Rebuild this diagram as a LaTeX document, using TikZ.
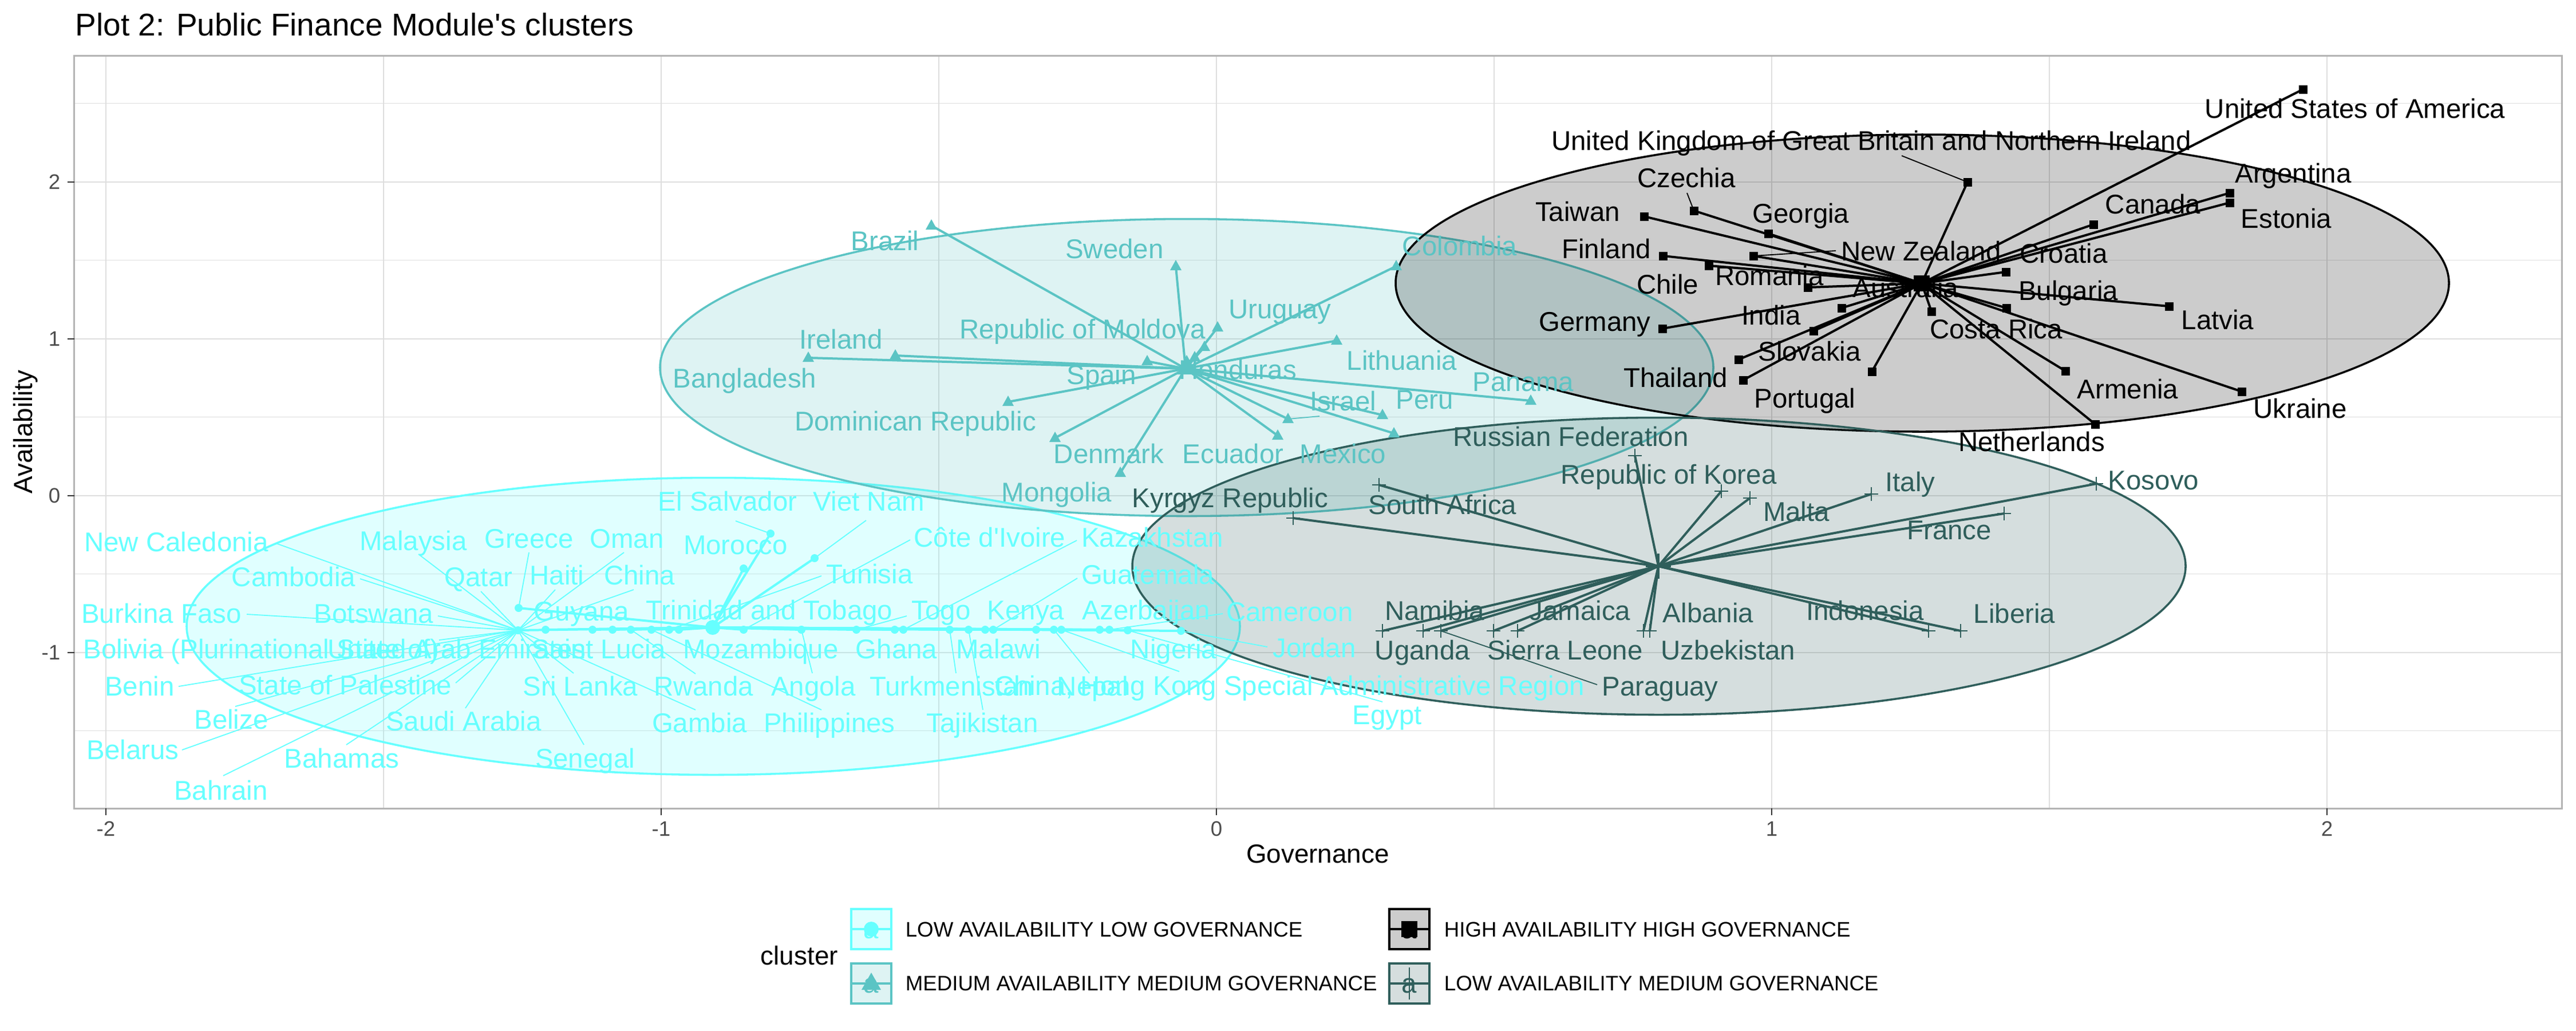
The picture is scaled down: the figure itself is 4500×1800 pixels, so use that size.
\documentclass[tikz,border=0pt]{standalone}
\usepackage{fontspec}
\setmainfont{Liberation Sans}
\definecolor{cC}{HTML}{66FFFF}
\definecolor{tC}{HTML}{5BC4C4}
\definecolor{dC}{HTML}{2F5E5B}
\definecolor{gridc}{HTML}{DEDEDE}
\definecolor{borderc}{HTML}{B3B3B3}
\definecolor{tickc}{HTML}{333333}
\definecolor{ticklabc}{HTML}{4D4D4D}
\begin{document}
\begin{tikzpicture}[x=0.24pt,y=-0.24pt,
  lab/.style={inner sep=0pt, anchor=base, font=\fontsize{11.38}{13.6}\selectfont},
  clab/.style={lab, text=cC}, tlab/.style={lab, text=tC},
  klab/.style={lab, text=black}, dlab/.style={lab, text=dC},
  cseg/.style={cC, line width=0.45pt}, tseg/.style={tC, line width=0.45pt},
  kseg/.style={black, line width=0.45pt}, dseg/.style={dC, line width=0.45pt},
  cstar/.style={cC, line width=0.96pt}, tstar/.style={tC, line width=0.96pt},
  kstar/.style={black, line width=0.96pt}, dstar/.style={dC, line width=0.96pt},
  ell/.style={line width=0.85pt, fill opacity=0.2},
  minorg/.style={gridc, line width=0.27pt}, majorg/.style={gridc, line width=0.53pt},
  tickmark/.style={tickc, line width=0.53pt},
  ticklab/.style={inner sep=0pt, text=ticklabc, font=\fontsize{8.8}{10.5}\selectfont},
  legtext/.style={inner sep=0pt, anchor=base west, font=\fontsize{8.8}{10.5}\selectfont},
  keybox/.style={line width=0.85pt, fill opacity=0.2}
]
\useasboundingbox (0,0) rectangle (4500,1800);
\fill[white] (0,0) rectangle (4500,1800);
% ---------- grid ----------
\foreach \gx in {670,1640,2610,3580} \draw[minorg] (\gx,97.3) -- (\gx,1412);
\foreach \gy in {180.6,454.6,728.6,1002.6,1276.6} \draw[minorg] (129.5,\gy) -- (4475.5,\gy);
\foreach \gx in {185,1155,2125,3095,4065} \draw[majorg] (\gx,97.3) -- (\gx,1412);
\foreach \gy in {317.6,591.6,865.6,1139.6} \draw[majorg] (129.5,\gy) -- (4475.5,\gy);
% ---------- ellipses ----------
\draw[ell, draw=cC, fill=cC] (1246,1094) ellipse [x radius=920, y radius=259.5];
\draw[ell, draw=tC, fill=tC] (2073,642) ellipse [x radius=920, y radius=259.5];
\draw[ell, draw=black, fill=black] (3358,494.5) ellipse [x radius=920, y radius=259.5];
\draw[ell, draw=dC, fill=dC] (2898,989) ellipse [x radius=920, y radius=259.5];
% ---------- coordinates ----------
\coordinate (c1) at (1245,1096);
\coordinate (c2) at (2071,644);
\coordinate (c3) at (3357,495);
\coordinate (c4) at (2897,989);
\foreach \n/\x/\y in {0/905/1101, 1/906/1062, 2/1346/932, 3/1299/993, 4/1423/975,
  5/953/1100, 6/1035/1100, 7/1070/1100, 8/1102/1100, 9/1138/1100, 10/1169/1100,
  11/1186/1100, 12/1299/1100, 13/1400/1100, 14/1496/1100, 15/1563/1100, 16/1578/1100,
  17/1659/1100, 18/1692/1100, 19/1721/1100, 20/1735/1100, 21/1810/1100, 22/1841/1100,
  23/1854/1100, 24/1921/1100, 25/1938/1100, 26/1970/1101, 27/2063/1102}
  \coordinate (a\n) at (\x,\y);
\foreach \n/\x/\y in {0/1627/394, 1/2054/465, 2/2127/572, 3/2104/606, 4/2439/465,
  5/2335/595, 6/1564/621, 7/1412/625, 8/2004/631, 9/2087/624, 10/1761/702,
  11/1843/765, 12/2232/761, 13/2435/757, 14/2250/732, 15/2415/725, 16/2674/700,
  17/1957/826, 18/2073/631}
  \coordinate (b\n) at (\x,\y);
\foreach \n/\x/\y in {0/3437/318, 1/4023/156, 2/2959/368, 3/2872/378, 4/3089/408,
  5/2905/447, 6/3063/447, 7/2985/464, 8/3158/502, 9/3217/538, 10/3168/578,
  11/3037/628, 12/3045/664, 13/3270/649, 14/3374/544, 15/3504/475, 16/3505/538,
  17/2904/574, 18/3657/392, 19/3895/337, 20/3895/354, 21/3789/535, 22/3608/648,
  23/3916/684, 24/3660/741}
  \coordinate (k\n) at (\x,\y);
\foreach \n/\x/\y in {0/2856/796, 1/3007/858, 2/3057/870, 3/3269/863, 4/3662/845,
  5/3501/897, 6/2409/847, 7/2259/905, 8/2415/1102, 9/2486/1102, 10/2517/1102,
  11/2609/1102, 12/2651/1102, 13/2871/1102, 14/2882/1102, 15/3369/1102, 16/3425/1102}
  \coordinate (d\n) at (\x,\y);
% ---------- star lines ----------
\foreach \n in {0,...,27} \draw[cstar] (c1) -- (a\n);
\foreach \n in {0,...,18} \draw[tstar] (c2) -- (b\n);
\foreach \n in {0,...,24} \draw[kstar] (c3) -- (k\n);
\foreach \n in {0,...,16} \draw[dstar] (c4) -- (d\n);
% ---------- points ----------
\foreach \n in {0,...,27} \fill[cC] (a\n) circle[radius=7];
\foreach \n in {0,...,18} \fill[tC] (b\n) ++(0,-11) -- ++(-10,18) -- ++(20,0) -- cycle;
\foreach \n in {0,...,24} \fill[black] (k\n) ++(-7.5,-7.5) rectangle ++(15,15);
\foreach \n in {0,...,16} \draw[dC, line width=0.6pt] (d\n) ++(-12,0) -- ++(24,0) (d\n) ++(0,-12) -- ++(0,24);
% centroids
\fill[cC] (c1) circle[radius=13];
\fill[tC] (c2) ++(0,-17) -- ++(-15,27) -- ++(30,0) -- cycle;
\fill[black] (c3) ++(-14,-14) rectangle ++(28,28);
\draw[dC, line width=0.8pt] (c4) ++(-22,0) -- ++(44,0) (c4) ++(0,-22) -- ++(0,44);
% ---------- label segments ----------
\foreach \x/\y/\t in {482/949/0, 731/968/0, 924/965/1, 1090/965/0, 629/1011/0, 840/1033/0,
  970/1030/0, 1107/1030/0, 431/1073/0, 765/1076/0, 767/1118/0, 312/1199/0, 796/1193/0,
  1002/1176/0, 1215/1177/8, 411/1234/0, 813/1237/0, 1215/1240/0, 318/1310/0, 605/1301/0,
  1020/1301/0, 390/1355/0, 1285/910/2, 1513/909/4, 1435/1006/10, 1590/943/12,
  1881/944/16, 1882/1010/20, 1584/1076/14, 2136/1072/25, 2214/1130/27, 2415/1226/26,
  2060/1173/23, 1903/1176/22, 1670/1176/17, 1717/1240/18, 1419/1176/13, 1435/1240/9}
  \draw[cseg] (\x,\y) -- (a\t);
\draw[tseg] (2305,727) -- (b14);
\draw[kseg] (3322,272) -- (k0);
\draw[kseg] (2947,337) -- (k2);
\draw[kseg] (3207,438) -- (k6);
\draw[dseg] (2790,1196) -- (d10);
% ---------- cyan labels ----------
\node[clab] (ca1) at (308,963) {New Caledonia};
\node[clab] (ca2) at (722,961) {Malaysia};
\node[clab] (ca3) at (924,957) {Greece};
\node[clab] (ca4) at (1095,957) {Oman};
\node[clab] (ca5) at (513,1024) {Cambodia};
\node[clab] (ca6) at (836,1024) {Qatar};
\node[clab] (ca7) at (973,1021) {Haiti};
\node[clab] (ca8) at (1117,1021) {China};
\node[clab] (ca9) at (282,1088) {Burkina Faso};
\node[clab] (ca10) at (653,1088) {Botswana};
\node[clab] (ca11) at (1016,1084) {Guyana};
\node[clab] (ca12) at (1344,1082) {Trinidad and Tobago};
\node[clab, anchor=base west] (ca13) at (145,1150) {Bolivia (Plurinational State of)};
\node[clab] (ca14) at (798,1150) {United Arab Emirates};
\node[clab] (ca15) at (1046,1150) {Saint Lucia};
\node[clab] (ca16) at (244,1215) {Benin};
\node[clab] (ca17) at (603,1213) {State of Palestine};
\node[clab] (ca18) at (1014,1215) {Sri Lanka};
\node[clab] (ca19) at (1229,1215) {Rwanda};
\node[clab] (ca20) at (404,1273) {Belize};
\node[clab] (ca21) at (810,1276) {Saudi Arabia};
\node[clab] (ca22) at (1222,1279) {Gambia};
\node[clab] (ca23) at (232,1326) {Belarus};
\node[clab] (ca24) at (597,1341) {Bahamas};
\node[clab] (ca25) at (1022,1341) {Senegal};
\node[clab] (ca26) at (386,1397) {Bahrain};
\node[clab] (ca27) at (1271,892) {El Salvador};
\node[clab] (ca28) at (1518,892) {Viet Nam};
\node[clab] (ca29) at (1285,968) {Morocco};
\node[clab] (ca30) at (1729,955) {C\^ote d\textquotesingle Ivoire};
\node[clab] (ca31) at (2013,955) {Kazakhstan};
\node[clab] (ca32) at (1519,1019) {Tunisia};
\node[clab] (ca33) at (2005,1020) {Guatemala};
\node[clab] (ca34) at (1644,1082) {Togo};
\node[clab] (ca35) at (1792,1082) {Kenya};
\node[clab] (ca36) at (2002,1082) {Azerbaijan};
\node[clab] (ca37) at (2253,1085) {Cameroon};
\node[clab] (ca38) at (1329,1150) {Mozambique};
\node[clab] (ca39) at (1566,1150) {Ghana};
\node[clab] (ca40) at (1744,1150) {Malawi};
\node[clab] (ca41) at (2050,1150) {Nigeria};
\node[clab] (ca42) at (2296,1148) {Jordan};
\node[clab] (ca43) at (1421,1215) {Angola};
\node[clab] (ca44) at (1662,1215) {Turkmenistan};
\node[clab] (ca45) at (2253,1214) {China, Hong Kong Special Administrative Region};
\node[clab, anchor=base west] (ca46) at (1846,1215) {Nepal};
\node[clab] (ca47) at (1449,1279) {Philippines};
\node[clab] (ca48) at (1716,1279) {Tajikistan};
\node[clab] (ca49) at (2423,1265) {Egypt};
% ---------- teal labels ----------
\node[tlab] (tb1) at (1546,437) {Brazil};
\node[tlab] (tb2) at (1947,451) {Sweden};
\node[tlab] (tb3) at (2236,556) {Uruguay};
\node[tlab] (tb4) at (1891,591) {Republic of Moldova};
\node[tlab] (tb5) at (2550,446) {Colombia};
\node[tlab] (tb6) at (2449,646) {Lithuania};
\node[tlab] (tb7) at (1469,609) {Ireland};
\node[tlab] (tb8) at (1301,677) {Bangladesh};
\node[tlab] (tb9) at (1924,671) {Spain};
\node[tlab] (tb10) at (2162,662) {Honduras};
\node[tlab] (tb11) at (1599,752) {Dominican Republic};
\node[tlab] (tb12) at (1937,809) {Denmark};
\node[tlab] (tb13) at (2154,809) {Ecuador};
\node[tlab] (tb14) at (2346,809) {Mexico};
\node[tlab] (tb15) at (2346,717) {Israel};
\node[tlab] (tb16) at (2489,714) {Peru};
\node[tlab] (tb17) at (2661,683) {Panama};
\node[tlab] (tb18) at (1846,876) {Mongolia};
% ---------- dark labels ----------
\node[dlab] (dd1) at (2744,779) {Russian Federation};
\node[dlab] (dd2) at (2915,845) {Republic of Korea};
\node[dlab] (dd3) at (3138,910) {Malta};
\node[dlab] (dd4) at (3337,858) {Italy};
\node[dlab] (dd5) at (3762,855) {Kosovo};
\node[dlab] (dd6) at (3405,942) {France};
\node[dlab] (dd7) at (2520,898) {South Africa};
\node[dlab] (dd8) at (2149,886) {Kyrgyz Republic};
\node[dlab] (dd9) at (2506,1083) {Namibia};
\node[dlab] (dd10) at (2485,1152) {Uganda};
\node[dlab] (dd11) at (2760,1083) {Jamaica};
\node[dlab] (dd12) at (2734,1152) {Sierra Leone};
\node[dlab] (dd13) at (2900,1215) {Paraguay};
\node[dlab] (dd14) at (2984,1087) {Albania};
\node[dlab] (dd15) at (3019,1152) {Uzbekistan};
\node[dlab] (dd16) at (3258,1083) {Indonesia};
\node[dlab] (dd17) at (3519,1088) {Liberia};
% ---------- black labels ----------
\node[klab] (kk1) at (3269,262) {United Kingdom of Great Britain and Northern Ireland};
\node[klab] (kk2) at (4114,206) {United States of America};
\node[klab] (kk3) at (2946,327) {Czechia};
\node[klab] (kk4) at (2756,386) {Taiwan};
\node[klab] (kk5) at (3146,389) {Georgia};
\node[klab] (kk6) at (2806,451) {Finland};
\node[klab] (kk7) at (3356,455) {New Zealand};
\node[klab] (kk8) at (3091,498) {Romania};
\node[klab] (kk9) at (2913,513) {Chile};
\node[klab] (kk10) at (3329,519) {Australia};
\node[klab] (kk11) at (3605,459) {Croatia};
\node[klab] (kk12) at (3613,524) {Bulgaria};
\node[klab] (kk13) at (3761,373) {Canada};
\node[klab] (kk14) at (4006,319) {Argentina};
\node[klab] (kk15) at (3994,398) {Estonia};
\node[klab] (kk16) at (2786,578) {Germany};
\node[klab] (kk17) at (3094,567) {India};
\node[klab] (kk18) at (3487,591) {Costa Rica};
\node[klab] (kk19) at (3874,575) {Latvia};
\node[klab] (kk20) at (3161,630) {Slovakia};
\node[klab] (kk21) at (2927,676) {Thailand};
\node[klab] (kk22) at (3153,712) {Portugal};
\node[klab] (kk23) at (3717,696) {Armenia};
\node[klab] (kk24) at (4018,730) {Ukraine};
\node[klab] (kk25) at (3549,788) {Netherlands};
% ---------- panel border, ticks ----------
\draw[borderc, line width=0.72pt] (129.5,97.3) rectangle (4475.5,1412);
\foreach \gy in {317.6,591.6,865.6,1139.6} \draw[tickmark] (118,\gy) -- (129.5,\gy);
\foreach \gx in {185,1155,2125,3095,4065} \draw[tickmark] (\gx,1412) -- (\gx,1423.5);
\foreach \i/\v/\gx in {1/-2/185, 2/-1/1155, 3/0/2125, 4/1/3095, 5/2/4065}
  \node[ticklab, anchor=base] (xt\i) at (\gx,1460) {\v};
\foreach \i/\v/\gy in {1/2/317.6, 2/1/591.6, 3/0/865.6, 4/-1/1139.6}
  \node[ticklab, anchor=east] (yt\i) at (106,\gy) {\v};
% ---------- titles ----------
\node[inner sep=0pt, anchor=base west, font=\fontsize{13.2}{15.8}\selectfont] (title) at (131,62) {Plot 2: Public Finance Module\textquotesingle s clusters};
\node[inner sep=0pt, anchor=base, font=\fontsize{11}{13.2}\selectfont] (xtitle) at (2302,1507) {Governance};
\node[inner sep=0pt, anchor=base, rotate=90, font=\fontsize{11}{13.2}\selectfont] (ytitle) at (57,754.5) {Availability};
% ---------- legend ----------
\node[inner sep=0pt, anchor=base west, font=\fontsize{11}{13.2}\selectfont] (legtitle) at (1328,1685) {cluster};
% key 1
\draw[keybox, draw=cC, fill=cC] (1487,1588) rectangle (1557,1658);
\draw[cstar] (1487,1623) -- (1557,1623);
\node[clab, anchor=center] (ka1) at (1522,1627) {a};
\fill[cC] (1522,1623) circle[radius=13];
\node[legtext] (lg1) at (1581,1636) {LOW AVAILABILITY LOW GOVERNANCE};
% key 2
\draw[keybox, draw=tC, fill=tC] (1487,1683) rectangle (1557,1753);
\draw[tstar] (1487,1718) -- (1557,1718);
\node[tlab, anchor=center] (ka2) at (1522,1722) {a};
\fill[tC] (1522,1699) -- (1505,1729) -- (1539,1729) -- cycle;
\node[legtext] (lg2) at (1581,1730) {MEDIUM AVAILABILITY MEDIUM GOVERNANCE};
% key 3
\draw[keybox, draw=black, fill=black] (2427,1588) rectangle (2497,1658);
\draw[kstar] (2427,1623) -- (2497,1623);
\node[klab, anchor=center] (ka3) at (2462,1627) {a};
\fill[black] (2448,1609) rectangle (2476,1637);
\node[legtext] (lg3) at (2522,1636) {HIGH AVAILABILITY HIGH GOVERNANCE};
% key 4
\draw[keybox, draw=dC, fill=dC] (2427,1683) rectangle (2497,1753);
\draw[dstar] (2427,1718) -- (2497,1718);
\node[dlab, anchor=center] (ka4) at (2462,1722) {a};
\draw[dC, line width=0.6pt] (2462,1690) -- (2462,1746);
\node[legtext] (lg4) at (2522,1730) {LOW AVAILABILITY MEDIUM GOVERNANCE};
\end{tikzpicture}
\end{document}
